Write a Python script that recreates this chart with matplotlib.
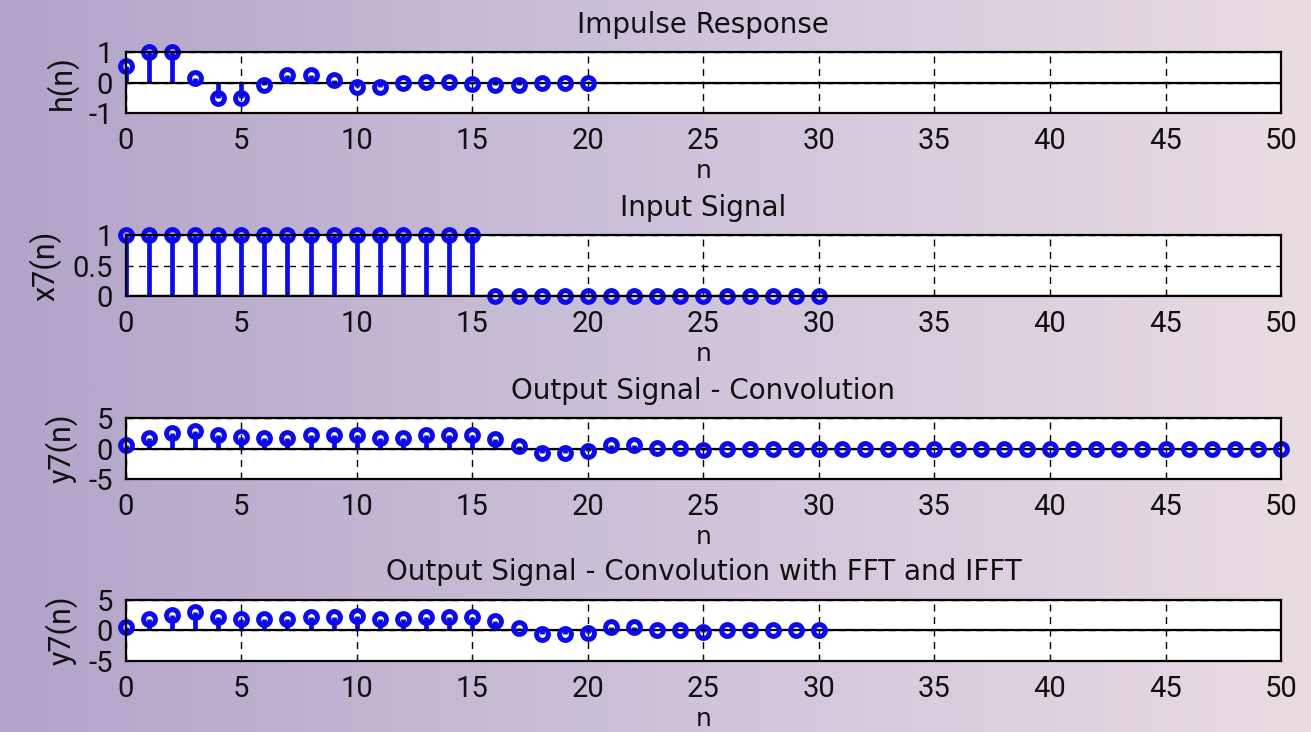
import numpy as np
import matplotlib.pyplot as plt
from matplotlib.colors import LinearSegmentedColormap

# impulse response h(n), n = 0..20
n_h = np.arange(21)
h = [0.55, 1.0, 1.0, 0.15, -0.5, -0.5, -0.07, 0.25, 0.25, 0.08, -0.15,
     -0.13, 0.0, 0.03, 0.04, -0.03, -0.08, -0.07, -0.02, -0.02, -0.02]

# input signal x7(n), n = 0..30
n_x = np.arange(31)
x7 = [1] * 16 + [0] * 15

# output signal y7(n) by direct convolution, n = 0..50
n_y = np.arange(51)
y7 = [0.55, 1.8, 2.5, 2.9, 2.2, 1.9, 1.8, 1.8, 2.2, 2.2, 2.3, 1.8, 1.8,
      2.2, 2.2, 2.2, 1.5, 0.4, -0.7, -0.7, -0.4, 0.55, 0.5, 0.1, 0.05,
      -0.3] + [0.0] * 25

# output via FFT / IFFT, n = 0..30
n_f = np.arange(31)
y7_fft = y7[:31]

titles = ['Impulse Response', 'Input Signal', 'Output Signal - Convolution',
          'Output Signal - Convolution with FFT and IFFT']
ylabels = ['h(n)', 'x7(n)', 'y7(n)', 'y7(n)']
ylims = [(-1, 1), (0, 1), (-5, 5), (-5, 5)]
yticks = [[-1, 0, 1], [0, 0.5, 1], [-5, 0, 5], [-5, 0, 5]]
series = [(n_h, h), (n_x, x7), (n_y, y7), (n_f, y7_fft)]

plt.rcParams['font.family'] = ['Roboto', 'DejaVu Sans']

fig = plt.figure(figsize=(13.11, 7.32), dpi=100)

# gradient background
bg = fig.add_axes([0, 0, 1, 1], zorder=-10)
cmap = LinearSegmentedColormap.from_list('bg', ['#b2a4c8', '#cdc2da', '#e9dce2'])
grad = np.linspace(0, 1, 512)[None, :]
bg.imshow(grad, cmap=cmap, aspect='auto', extent=[0, 1, 0, 1])
bg.axis('off')

left = 0.0959
width = 0.8813
bottoms = [0.8452, 0.5956, 0.3456, 0.0975]
height = 0.0833
blue = '#0a0aeb'

for i in range(4):
    ax = fig.add_axes([left, bottoms[i], width, height])
    ax.set_facecolor('white')
    n, v = series[i]
    markers, stems, base = ax.stem(n, v, basefmt='k-')
    plt.setp(stems, color=blue, linewidth=3.4)
    plt.setp(markers, color=blue, marker='o', markersize=8.5,
             markerfacecolor='none', markeredgewidth=3.6, clip_on=False,
             zorder=4)
    plt.setp(base, color='black', linewidth=1.6, xdata=[0, 50], zorder=3)

    ax.set_xlim(0, 50)
    ax.set_ylim(*ylims[i])
    ax.set_xticks(np.arange(0, 51, 5))
    ax.set_yticks(yticks[i])
    ax.set_yticklabels([('%g' % t) for t in yticks[i]])
    ax.grid(True, color='black', linestyle=(0, (5, 4)), linewidth=1)
    ax.set_axisbelow(True)
    ax.tick_params(direction='in', length=4, labelsize=21, colors='#111111')
    ax.tick_params(axis='x', pad=10)
    ax.tick_params(axis='y', pad=9)
    for s in ax.spines.values():
        s.set_linewidth(1.6)
        s.set_zorder(5)
    ax.set_title(titles[i], fontsize=20, pad=14, color='#111111',
                 family=['DejaVu Sans'])
    ax.set_xlabel('n', fontsize=18, labelpad=3, color='#111111',
                  family=['DejaVu Sans'])
    ax.set_ylabel(ylabels[i], fontsize=22, labelpad=8, color='#111111')

fig.savefig('out.png', dpi=100)
